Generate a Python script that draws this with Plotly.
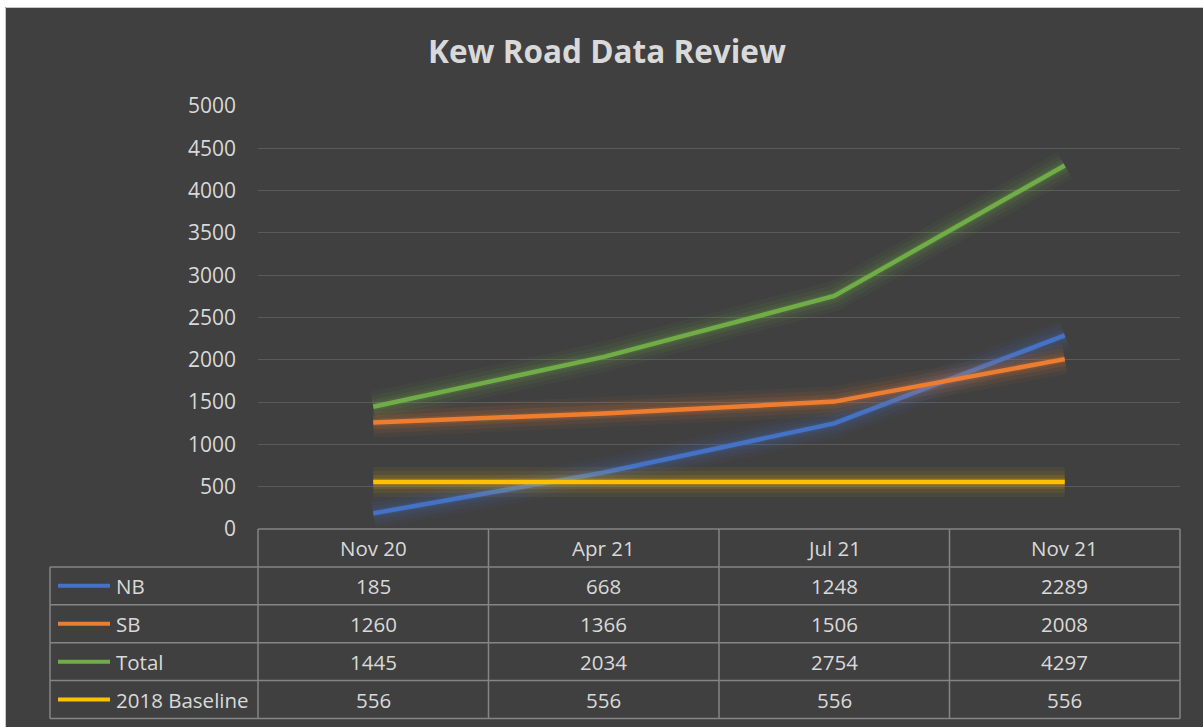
import plotly.graph_objects as go

# ---- data ----
categories = ["Nov 20", "Apr 21", "Jul 21", "Nov 21"]
series_names = ["NB", "SB", "Total", "2018 Baseline"]
nb = [185, 668, 1248, 2289]
sb = [1260, 1366, 1506, 2008]
total = [1445, 2034, 2754, 4297]
baseline = [556, 556, 556, 556]
y_ticks = [0, 500, 1000, 1500, 2000, 2500, 3000, 3500, 4000, 4500, 5000]
title_text = "Kew Road Data Review"

series_values = [nb, sb, total, baseline]
colors = ["#4472C4", "#ED7D31", "#70AD47", "#FFC000"]

# ---- geometry (pixels) ----
W, H = 1203, 727
PL, PR, PT, PB = 258, 1180, 106, 529
ROW_H = 37.9
TABLE_LEFT = 50
BG = "#404040"
TXT = "#d9d9d9"
BORDER = "#858585"
FONT = "Open Sans"


def px_x(px):
    return (px - PL) / (PR - PL)


def px_y(py):
    return (PB - py) / (PB - PT)


fig = go.Figure()

# glow layers then main lines
for name, vals, col in zip(series_names, series_values, colors):
    for w, op in [(30, 0.05), (22, 0.07), (14, 0.10), (8, 0.14)]:
        fig.add_trace(go.Scatter(x=categories, y=vals, mode="lines",
                                 line=dict(color=col, width=w),
                                 opacity=op, hoverinfo="skip", showlegend=False))
    fig.add_trace(go.Scatter(x=categories, y=vals, mode="lines", name=name,
                             line=dict(color=col, width=4.5), showlegend=False))

shapes = []
annotations = []

# outer white strip
shapes.append(dict(type="rect", xref="paper", yref="paper",
                   x0=px_x(-5), x1=px_x(W + 5), y0=px_y(-5), y1=px_y(7),
                   fillcolor="white", line=dict(width=0), layer="below"))
shapes.append(dict(type="rect", xref="paper", yref="paper",
                   x0=px_x(-5), x1=px_x(5), y0=px_y(-5), y1=px_y(H + 5),
                   fillcolor="white", line=dict(width=0), layer="below"))
shapes.append(dict(type="line", xref="paper", yref="paper",
                   x0=px_x(5.5), x1=px_x(W), y0=px_y(7.5), y1=px_y(7.5),
                   line=dict(color="#c8c8c8", width=1)))
shapes.append(dict(type="line", xref="paper", yref="paper",
                   x0=px_x(5.5), x1=px_x(5.5), y0=px_y(7.5), y1=px_y(H),
                   line=dict(color="#c8c8c8", width=1)))

# table grid
n_rows = len(series_names)
row_lines = [PB + k * ROW_H for k in range(n_rows + 2)]
shapes.append(dict(type="line", xref="paper", yref="paper", x0=0, x1=1,
                   y0=px_y(row_lines[0]), y1=px_y(row_lines[0]),
                   line=dict(color=BORDER, width=1.5)))
for yy in row_lines[1:]:
    shapes.append(dict(type="line", xref="paper", yref="paper",
                       x0=px_x(TABLE_LEFT), x1=1, y0=px_y(yy), y1=px_y(yy),
                       line=dict(color=BORDER, width=1.5)))
for j in range(len(categories) + 1):
    shapes.append(dict(type="line", xref="paper", yref="paper",
                       x0=j / len(categories), x1=j / len(categories),
                       y0=px_y(row_lines[0]), y1=px_y(row_lines[-1]),
                       line=dict(color=BORDER, width=1.5)))
shapes.append(dict(type="line", xref="paper", yref="paper",
                   x0=px_x(TABLE_LEFT), x1=px_x(TABLE_LEFT),
                   y0=px_y(row_lines[1]), y1=px_y(row_lines[-1]),
                   line=dict(color=BORDER, width=1.5)))

tfont = dict(family=FONT, size=20.5, color=TXT)
# header
for i, c in enumerate(categories):
    annotations.append(dict(x=(i + 0.5) / len(categories), y=px_y(PB + ROW_H / 2),
                            xref="paper", yref="paper", text=c, showarrow=False,
                            font=tfont, xanchor="center", yanchor="middle"))
# rows
for r, (name, vals, col) in enumerate(zip(series_names, series_values, colors)):
    cy = PB + ROW_H * (r + 1.5)
    shapes.append(dict(type="line", xref="paper", yref="paper",
                       x0=px_x(58), x1=px_x(110), y0=px_y(cy), y1=px_y(cy),
                       line=dict(color=col, width=4)))
    annotations.append(dict(x=px_x(114), y=px_y(cy), xref="paper", yref="paper",
                            text=name, showarrow=False, font=tfont,
                            xanchor="left", yanchor="middle"))
    for i, v in enumerate(vals):
        annotations.append(dict(x=(i + 0.5) / len(categories), y=px_y(cy),
                                xref="paper", yref="paper", text=str(v),
                                showarrow=False, font=tfont,
                                xanchor="center", yanchor="middle"))

fig.update_layout(
    width=W, height=H,
    margin=dict(l=PL, r=W - PR, t=PT, b=H - PB, pad=0),
    paper_bgcolor=BG, plot_bgcolor=BG,
    title=dict(text=title_text, x=607 / W, xref="container", xanchor="center",
               y=1 - 52 / H, yref="container", yanchor="middle",
               font=dict(family=FONT, size=31.5, color=TXT, weight="bold")),
    xaxis=dict(type="category", categoryorder="array", categoryarray=categories,
               range=[-0.5, len(categories) - 0.5], showticklabels=False,
               showgrid=False, zeroline=False, showline=False, fixedrange=True),
    yaxis=dict(range=[0, 5000], tickvals=y_ticks, showgrid=True,
               gridcolor="#5a5a5a", gridwidth=1, zeroline=False, showline=False,
               tickfont=dict(family=FONT, size=21, color=TXT),
               ticklabelstandoff=21, fixedrange=True),
    shapes=shapes, annotations=annotations, showlegend=False,
)

fig.write_html("out.html", config={"displayModeBar": False},
               post_script="document.body.style.margin='0';"
                           "document.body.style.overflow='hidden';")
